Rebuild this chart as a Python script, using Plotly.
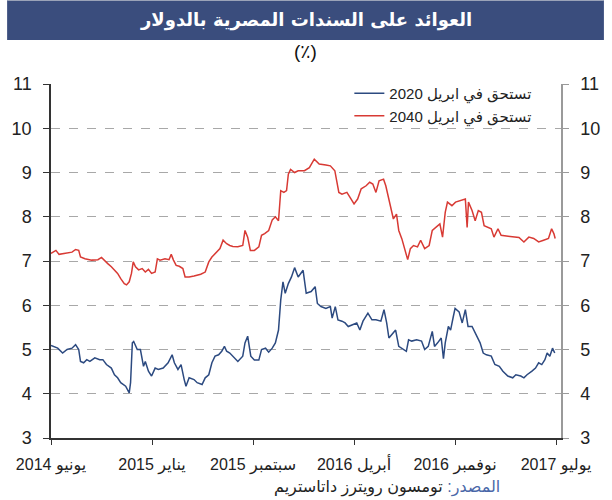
import pandas as pd
import plotly.graph_objects as go

START = "2014-06-10"

# ---- data (days since START, yield %) ----
red_days = [0, 11, 18, 33, 47, 55, 62, 66, 76, 91, 105, 113, 120, 127, 135, 142, 149, 156, 164, 169,
            175, 180, 184, 189, 196, 204, 211, 218, 225, 233, 238, 244, 255, 264, 269, 274, 280, 287,
            295, 300, 309, 320, 327, 335, 345, 353, 360, 367, 378, 385, 393, 400, 407, 418, 429, 434,
            440, 446, 455, 465, 471, 478, 487, 495, 502, 509, 514, 521, 527, 531, 536, 545, 553,
            567, 578, 589, 600, 615, 625, 635, 640, 644, 651, 662, 669, 678, 686, 694, 705, 713, 720,
            727, 734, 744, 749, 754, 760, 766, 773, 778, 785, 793, 798, 804, 811, 820, 827, 836, 846,
            853, 862, 870, 876, 882, 887, 897, 905, 916, 927, 931, 934, 942, 949, 956, 963, 969, 978,
            985, 991, 1000, 1007, 1022, 1036, 1047, 1058, 1069, 1080, 1091, 1102, 1113, 1120, 1125, 1128]
red_vals = [7.17, 7.24, 7.15, 7.18, 7.20, 7.26, 7.24, 7.09, 7.05, 7.02, 7.03, 7.08, 7.00, 6.94, 6.87,
            6.80, 6.72, 6.60, 6.49, 6.46, 6.53, 6.72, 6.98, 6.87, 6.80, 6.83, 6.75, 6.81, 6.72, 6.75,
            7.05, 7.02, 7.05, 7.03, 7.15, 7.02, 6.90, 6.88, 6.83, 6.64, 6.64, 6.66, 6.68, 6.70, 6.75,
            6.98, 7.09, 7.17, 7.28, 7.47, 7.39, 7.35, 7.33, 7.32, 7.35, 7.69, 7.54, 7.24, 7.24, 7.32,
            7.58, 7.62, 7.69, 7.93, 8.00, 7.91, 8.59, 8.55, 8.59, 8.96, 9.07, 9.00, 9.04,
            9.04, 9.11, 9.30, 9.19, 9.17, 9.15, 9.04, 8.74, 8.55, 8.51, 8.55, 8.44, 8.29, 8.40, 8.63,
            8.70, 8.78, 8.74, 8.55, 8.81, 8.85, 8.70, 8.48, 8.14, 7.95, 8.06, 7.69, 7.50, 7.24, 7.03,
            7.28, 7.35, 7.32, 7.47, 7.28, 7.35, 7.69, 7.76, 7.84, 7.54, 8.10, 8.33, 8.25, 8.33, 8.36,
            8.40, 7.76, 8.33, 8.14, 7.91, 8.14, 8.10, 7.80, 7.76, 7.73, 7.54, 7.73, 7.58, 7.56, 7.54,
            7.53, 7.43, 7.54, 7.51, 7.43, 7.47, 7.51, 7.73, 7.62, 7.51]

blue_days = [0, 15, 26, 36, 47, 55, 62, 66, 73, 80, 87, 98, 109, 116, 124, 135, 142, 149, 156, 167,
             175, 178, 182, 185, 193, 200, 207, 211, 218, 225, 233, 240, 251, 262, 271, 276, 284,
             291, 298, 302, 309, 320, 327, 338, 345, 353, 360, 367, 375, 382, 388, 393, 400, 407,
             418, 429, 434, 440, 447, 455, 465, 471, 480, 487, 495, 502, 509, 514, 519, 524, 531,
             538, 545, 553, 564, 571, 582, 591, 596, 604, 615, 625, 629, 636, 642, 651, 658, 665,
             673, 684, 691, 698, 709, 718, 727, 738, 745, 751, 756, 764, 771, 778, 785, 795, 800,
             807, 818, 829, 836, 844, 853, 858, 865, 873, 878, 882, 889, 894, 900, 904, 913, 920,
             927, 933, 942, 953, 960, 967, 974, 985, 993, 1003, 1011, 1022, 1033, 1040, 1051, 1058,
             1065, 1076, 1084, 1091, 1098, 1105, 1110, 1116, 1122, 1127]
blue_vals = [5.09, 5.03, 4.92, 5.00, 5.03, 5.11, 5.00, 4.73, 4.70, 4.77, 4.73, 4.81, 4.77, 4.77, 4.66,
             4.58, 4.43, 4.36, 4.25, 4.17, 4.02, 4.25, 5.15, 5.18, 5.00, 5.00, 4.62, 4.73, 4.51, 4.40,
             4.58, 4.55, 4.58, 4.70, 4.88, 4.70, 4.55, 4.66, 4.32, 4.17, 4.36, 4.32, 4.25, 4.21, 4.36,
             4.43, 4.70, 4.85, 4.88, 4.96, 5.07, 4.96, 4.92, 4.85, 4.73, 4.85, 5.15, 5.30, 4.85, 4.76,
             4.76, 5.00, 5.03, 4.94, 5.03, 5.15, 5.44, 6.12, 6.53, 6.27, 6.49, 6.64, 6.85, 6.64,
             6.79, 6.27, 6.31, 6.42, 6.04, 5.97, 5.93, 5.97, 5.71, 5.97, 5.67, 5.64, 5.60, 5.52,
             5.56, 5.60, 5.44, 5.64, 5.82, 5.67, 5.67, 5.64, 5.90, 5.60, 5.26, 5.37, 5.44, 5.07,
             5.03, 4.96, 5.22, 5.19, 5.22, 5.19, 5.00, 5.07, 5.41, 5.07, 5.15, 5.26, 4.79, 5.15,
             5.52, 5.44, 5.74, 5.93, 5.85, 5.60, 5.90, 5.52, 5.52, 5.30, 5.15, 4.92, 4.88, 4.85,
             4.66, 4.62, 4.51, 4.40, 4.36, 4.43, 4.40, 4.36, 4.43, 4.51, 4.58, 4.70, 4.66, 4.77,
             4.92, 4.85, 5.03, 4.92]

tick_days = [0, 226, 452, 678, 904, 1130]
tick_text = ["يونيو 2014", "يناير 2015", "سبتمبر 2015", "أبريل 2016", "نوفمبر 2016", "يوليو 2017"]
y_ticks = [3, 4, 5, 6, 7, 8, 9, 10, 11]

name_2020 = "تستحق في ابريل 2020"
name_2040 = "تستحق في ابريل 2040"
title_text = "العوائد على السندات المصرية بالدولار"
unit_text = "(٪)"

start = pd.Timestamp(START)
def to_dates(days):
    return [start + pd.Timedelta(days=d) for d in days]

BLUE = "#2c4a80"
RED = "#d83a34"
FONT = "Liberation Sans, DejaVu Sans, sans-serif"

fig = go.Figure()
fig.add_trace(go.Scatter(x=to_dates(blue_days), y=blue_vals, mode="lines", name=name_2020,
                         line=dict(color=BLUE, width=1.5)))
fig.add_trace(go.Scatter(x=to_dates(red_days), y=red_vals, mode="lines", name=name_2040,
                         line=dict(color=RED, width=1.5)))
# invisible trace to drive the right axis
fig.add_trace(go.Scatter(x=to_dates([0]), y=[7], yaxis="y2", mode="markers",
                         marker=dict(opacity=0), showlegend=False, hoverinfo="skip"))

L, R, T, B = 45, 44, 84, 62
W, H = 612, 500
pw, ph = W - L - R, H - T - B

x_range = [start, start + pd.Timedelta(days=1141)]

fig.update_layout(
    width=W, height=H,
    margin=dict(l=L, r=R, t=T, b=B, pad=0),
    paper_bgcolor="white", plot_bgcolor="white",
    font=dict(family=FONT, color="#222222"),
    showlegend=True,
    legend=dict(x=0.585, y=1.02, xanchor="left", yanchor="top",
                bgcolor="rgba(0,0,0,0)", font=dict(size=15, color="#222222"),
                tracegroupgap=0, itemwidth=30),
    xaxis=dict(type="date", range=x_range, tickvals=to_dates(tick_days), ticktext=tick_text,
               showgrid=False, zeroline=False, showline=True, linecolor="#333333", linewidth=1.5,
               ticks="outside", ticklen=5, tickcolor="#333333", tickwidth=1.2,
               tickfont=dict(size=16, color="#222222"), ticklabelstandoff=6),
    yaxis=dict(range=[3, 11], tickvals=y_ticks, showgrid=True, gridcolor="#a8a8a8",
               griddash="dash", gridwidth=1, zeroline=False, showline=True,
               linecolor="#333333", linewidth=1.5, ticks="outside", ticklen=6,
               tickcolor="#333333", tickfont=dict(size=18, color="#222222"),
               ticklabelstandoff=8),
    yaxis2=dict(range=[3, 11], tickvals=y_ticks, overlaying="y", side="right",
                showgrid=False, zeroline=False, showline=True, linecolor="#9a9a9a",
                linewidth=1.5, ticks="outside", ticklen=6, tickcolor="#9a9a9a",
                tickfont=dict(size=18, color="#222222"), ticklabelstandoff=8),
)

# title bar
def py(px_from_top):
    return (H - B - px_from_top) / ph
def px(px_from_left):
    return (px_from_left - L) / pw

fig.add_shape(type="rect", xref="paper", yref="paper", x0=px(0), x1=px(W), y0=py(40), y1=py(0),
              fillcolor="#3a4d7d", line=dict(width=0), layer="below")
fig.add_shape(type="line", xref="paper", yref="paper", x0=px(0), x1=px(W), y0=py(0.5), y1=py(0.5),
              line=dict(color="#9aa3b8", width=1))

fig.add_annotation(xref="paper", yref="paper", x=px(307), y=py(20), text="<b>" + title_text + "</b>",
                   showarrow=False, xanchor="center", yanchor="middle",
                   font=dict(size=18, color="white", family="DejaVu Sans, sans-serif"))
fig.add_annotation(xref="paper", yref="paper", x=px(306), y=py(52), text=unit_text,
                   showarrow=False, xanchor="center", yanchor="middle",
                   font=dict(size=19, color="#111111", family=FONT))
fig.add_annotation(xref="paper", yref="paper", x=px(508), y=py(487),
                   text="<span style='color:#4a67a8'>المصدر:</span> تومسون رويترز داتاستريم",
                   showarrow=False, xanchor="right", yanchor="middle",
                   font=dict(size=16, color="#222222", family=FONT))

fig.write_html("out.html")
